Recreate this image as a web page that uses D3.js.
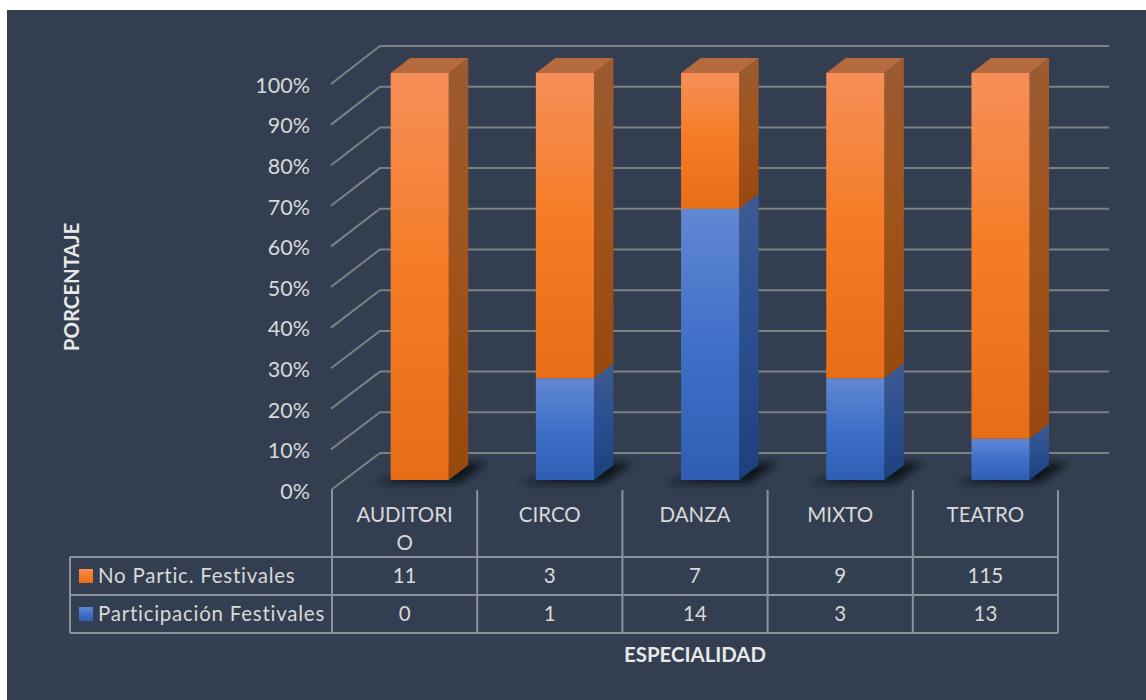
<!DOCTYPE html>
<html lang="en">
<head>
  <meta charset="UTF-8" />
  <title>Participación en festivales por especialidad</title>
  <script src="https://d3js.org/d3.v7.min.js"></script>
  <style>
    body { margin: 0; background: #fff; }
    svg { display: block; }
    text { font-family: Lato, sans-serif; fill: #d9d9d9; }
    .cell { font-size: 20.5px; text-anchor: middle; }
    .title { font-size: 20.4px; font-weight: bold; fill: #e8e8e8; text-anchor: middle; }
    .tick text { font-size: 21.5px; font-family: Lato, sans-serif; fill: #d9d9d9; }
  </style>
</head>
<body>
<script>
  const categories = ["AUDITORIO", "CIRCO", "DANZA", "MIXTO", "TEATRO"];
  const categoryLines = [["AUDITORI", "O"], ["CIRCO"], ["DANZA"], ["MIXTO"], ["TEATRO"]];
  const participacion = [0, 1, 14, 3, 13];
  const noPartic = [11, 3, 7, 9, 115];
  const seriesNames = ["Participación Festivales", "No Partic. Festivales"];
  const percentTicks = [0, 0.1, 0.2, 0.3, 0.4, 0.5, 0.6, 0.7, 0.8, 0.9, 1];

  const width = 1146, height = 700;
  const depthX = 19.5, depthY = 15;

  const colors = [
    { front: ["#6287d3", "#3f70c8", "#2e5fb4"], side: ["#3f5a90", "#2a4f90", "#1d407e"] },
    { front: ["#f68f58", "#f57b24", "#e86d17"], side: ["#9c5b32", "#a0531a", "#97490f"] }
  ];

  const svg = d3.select("body").append("svg")
    .attr("width", width)
    .attr("height", height);

  svg.append("rect")
    .attr("x", 7).attr("y", 10)
    .attr("width", width - 7).attr("height", height - 10)
    .attr("fill", "#333e50");

  const defs = svg.append("defs");
  colors.forEach((c, i) => {
    ["front", "side"].forEach(face => {
      const grad = defs.append("linearGradient")
        .attr("id", `grad-${face}-${i}`)
        .attr("x1", 0).attr("y1", 0).attr("x2", 0).attr("y2", 1);
      c[face].forEach((col, k) => {
        grad.append("stop")
          .attr("offset", k / (c[face].length - 1))
          .attr("stop-color", col);
      });
    });
  });
  defs.append("filter").attr("id", "soft")
    .attr("x", "-30%").attr("y", "-60%").attr("width", "160%").attr("height", "220%")
    .append("feGaussianBlur").attr("stdDeviation", 3.5);

  // table columns double as the category scale
  const x = d3.scaleBand().domain(categories).range([332, 1058]);
  // bars sit on the chart floor, a little right of the table columns
  const barX = d3.scaleBand().domain(categories).range([347.1, 1073.1]).paddingInner(0.6).paddingOuter(0.3);

  const yFront = d3.scaleLinear().domain([0, 1]).range([490, 84]);
  const yBack = d3.scaleLinear().domain([0, 1]).range([453, 46]);
  const yBar = d3.scaleLinear().domain([0, 1]).range([480, 73]);

  // walls
  const grid = svg.append("g").attr("stroke", "#7e8183").attr("stroke-width", 2).attr("fill", "none");
  percentTicks.forEach(t => {
    grid.append("path")
      .attr("d", d3.line()([[331, yFront(t)], [380, yBack(t)], [1109, yBack(t)]]));
  });

  const axis = d3.axisLeft(yFront)
    .tickValues(percentTicks)
    .tickFormat(d3.format(".0%"))
    .tickSize(0)
    .tickPadding(21);
  const axisG = svg.append("g").attr("transform", "translate(331,1.5)").call(axis);
  axisG.select(".domain").remove();

  // stacked bars
  const rows = categories.map((c, i) => ({ c, a: participacion[i], b: noPartic[i] }));
  const stack = d3.stack().keys(["a", "b"]).offset(d3.stackOffsetExpand)(rows);

  const line = d3.line();

  // floor shadows
  svg.append("g").selectAll("path").data(categories).join("path")
    .attr("filter", "url(#soft)")
    .attr("fill", "#10141c")
    .attr("d", c => {
      const x0 = barX(c), x1 = x0 + barX.bandwidth();
      return line([[x0 - 16, yBar(0) + 3], [x1 + 10, yBar(0) + 3], [x1 + 38, yBar(0) - 17], [x1 + 10, yBar(0) - 17]]) + "Z";
    });

  stack.forEach((layer, i) => {
    const g = svg.append("g");
    layer.filter(d => d[1] > d[0]).forEach(d => {
      const x0 = barX(d.data.c), x1 = x0 + barX.bandwidth();
      const y0 = yBar(d[0]), y1 = yBar(d[1]);
      g.append("path")
        .attr("fill", `url(#grad-side-${i})`)
        .attr("d", line([[x1, y0], [x1 + depthX, y0 - depthY], [x1 + depthX, y1 - depthY], [x1, y1]]) + "Z");
      g.append("rect")
        .attr("x", x0).attr("y", y1)
        .attr("width", barX.bandwidth()).attr("height", y0 - y1)
        .attr("fill", `url(#grad-front-${i})`);
      if (d[1] === 1) {
        g.append("path")
          .attr("fill", "#b56b3e")
          .attr("d", line([[x0, y1], [x0 + depthX, y1 - depthY], [x1 + depthX, y1 - depthY], [x1, y1]]) + "Z");
      }
    });
  });

  // data table
  const table = svg.append("g").attr("stroke", "#8c929b").attr("stroke-width", 2).attr("fill", "none");
  const rowY = [557, 595, 633];
  rowY.forEach(y => {
    table.append("line").attr("x1", 70).attr("x2", 1058).attr("y1", y).attr("y2", y);
  });
  table.append("line").attr("x1", 70).attr("x2", 70).attr("y1", rowY[0]).attr("y2", rowY[2]);
  x.domain().concat(null).forEach(c => {
    const px = c === null ? x.range()[1] : x(c);
    table.append("line").attr("x1", px).attr("x2", px).attr("y1", 490).attr("y2", rowY[2]);
  });

  categories.forEach((c, i) => {
    const cx = x(c) + x.bandwidth() / 2;
    categoryLines[i].forEach((t, k) => {
      svg.append("text").attr("class", "cell")
        .attr("x", cx).attr("y", 522 + k * 28).text(t);
    });
    svg.append("text").attr("class", "cell").attr("x", cx).attr("y", 583).text(noPartic[i]);
    svg.append("text").attr("class", "cell").attr("x", cx).attr("y", 621).text(participacion[i]);
  });

  // legend keys sit in the table rows
  [[1, 569, 576], [0, 607, 614]].forEach(([s, top, mid]) => {
    svg.append("rect")
      .attr("x", 79).attr("y", top).attr("width", 14).attr("height", 14)
      .attr("fill", `url(#grad-front-${s})`);
    svg.append("text")
      .attr("x", 98).attr("y", mid + 7)
      .attr("font-size", 20.5)
      .attr("letter-spacing", 0.75)
      .text(seriesNames[s]);
  });

  svg.append("text").attr("class", "title")
    .attr("transform", "translate(78.5,287) rotate(-90)")
    .text("PORCENTAJE");
  svg.append("text").attr("class", "title")
    .attr("x", 695).attr("y", 662)
    .text("ESPECIALIDAD");
</script>
</body>
</html>
